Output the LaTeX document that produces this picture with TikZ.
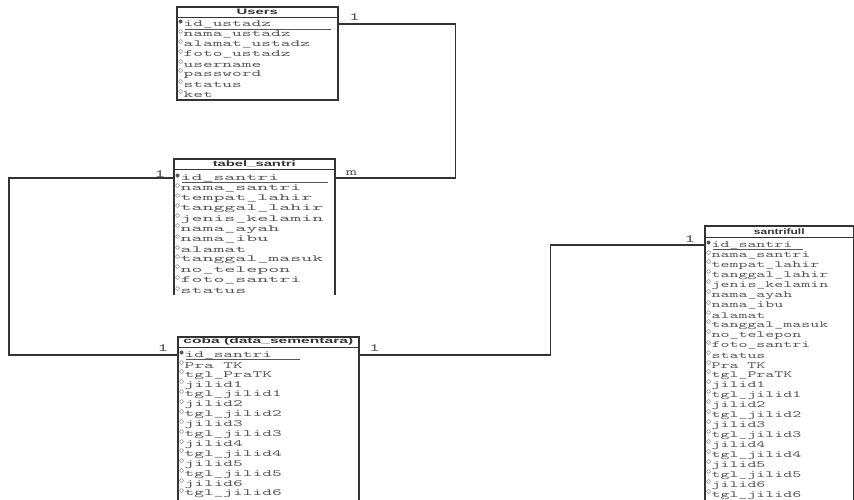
\documentclass[tikz,border=0pt]{standalone}
\usepackage{fontspec}
\usetikzlibrary{positioning}
\newfontfamily\rowfont[FakeStretch=1.95]{lmmono10-regular.otf}
\newfontfamily\rowfontw[FakeStretch=2.2]{lmmono10-regular.otf}
\newfontfamily\rowfontn[FakeStretch=1.8]{lmmono10-regular.otf}
\newfontfamily\headfont[FakeStretch=1.85]{Liberation Sans}
\newfontfamily\headfontw[FakeStretch=1.95]{Liberation Sans}
\newfontfamily\headfontn[FakeStretch=1.5]{Liberation Sans}
\newcommand\pkdot{\raisebox{2.5pt}{\scalebox{1.1}{$\bullet$}}\hspace{0.3pt}}
\newcommand\coldot{\raisebox{2.5pt}{\scalebox{1.1}{$\circ$}}\hspace{0.3pt}}
\definecolor{linegray}{HTML}{333333}
\definecolor{textgray}{HTML}{555555}
\tikzset{
  tbox/.style={draw=linegray,line width=1.6pt,anchor=north west,inner sep=0pt},
  hdr/.style={anchor=north,minimum height=11pt,inner sep=0pt,text=linegray,
    font=\fontsize{8}{9}#1\bfseries},
  hline/.style={draw=linegray,line width=0.9pt},
  row/.style={anchor=west,inner sep=0pt,text=textgray,font=\fontsize{9.5}{10}#1},
  pkline/.style={draw=textgray,line width=0.7pt},
  link/.style={draw=linegray,line width=1.4pt},
  card/.style={inner sep=0pt,text=textgray,font=\fontsize{11}{12}\rowfont}
}
\begin{document}
\begin{tikzpicture}[x=1pt,y=-1pt]
\path[use as bounding box,fill=white] (0,0) rectangle (854,499);

% Users
\node[tbox,minimum width=161pt,minimum height=93pt] (users) at (176,6) {};
\node[hdr=\headfont] (users-h) at (users.north) {Users};
\draw[hline] (users-h.south -| users.west) -- (users-h.south -| users.east);
\node[row=\rowfont] (users-key) at (178,24) {\pkdot id\_ustadz};
\draw[pkline] (users-key.west) ++(7,5) -- ++(146,0);
\foreach \f [count=\i] in {nama\_ustadz,alamat\_ustadz,foto\_ustadz,username,password,status,ket}
  \node[row=\rowfont] (users-\i) at (178,{24+10*\i}) {\coldot\f};

% tabel_santri
\begin{scope}
\clip (0,0) rectangle (854,294);
\node[tbox,minimum width=161pt,minimum height=150pt] (santri) at (173,158) {};
\node[hdr=\headfont] (santri-h) at (santri.north) {tabel\_santri};
\draw[hline] (santri-h.south -| santri.west) -- (santri-h.south -| santri.east);
\node[row=\rowfontw] (santri-key) at (175,178) {\pkdot id\_santri};
\draw[pkline] (santri-key.west) ++(7,4) -- ++(146,0);
\foreach \f [count=\i] in {nama\_santri,tempat\_lahir,tanggal\_lahir,jenis\_kelamin,nama\_ayah,nama\_ibu,alamat,tanggal\_masuk,no\_telepon,foto\_santri,status}
  \node[row=\rowfontw] (santri-\i) at (175,{178+10.2*\i}) {\coldot\f};
\end{scope}

% coba (data_sementara)
\node[tbox,minimum width=181pt,minimum height=200pt] (coba) at (177,336) {};
\node[hdr=\headfontw] (coba-h) at (coba.north) {coba (data\_sementara)};
\draw[hline] (coba-h.south -| coba.west) -- (coba-h.south -| coba.east);
\node[row=\rowfont] (coba-key) at (179,355) {\pkdot id\_santri};
\draw[pkline] (coba-key.west) ++(7,4) -- ++(114,0);
\foreach \f [count=\i] in {Pra TK,tgl\_PraTK,jilid1,tgl\_jilid1,jilid2,tgl\_jilid2,jilid3,tgl\_jilid3,jilid4,tgl\_jilid4,jilid5,tgl\_jilid5,jilid6,tgl\_jilid6}
  \node[row=\rowfont] (coba-\i) at (179,{355+9.9*\i}) {\coldot\f};

% santrifull
\node[tbox,minimum width=149pt,minimum height=300pt] (full) at (704,225) {};
\node[hdr=\headfontn,minimum height=12pt] (full-h) at (full.north) {santrifull};
\draw[hline] (full-h.south -| full.west) -- (full-h.south -| full.east);
\node[row=\rowfontn] (full-key) at (706,245) {\pkdot id\_santri};
\draw[pkline] (full-key.west) ++(7,4) -- ++(90,0);
\foreach \f [count=\i] in {nama\_santri,tempat\_lahir,tanggal\_lahir,jenis\_kelamin,nama\_ayah,nama\_ibu,alamat,tanggal\_masuk,no\_telepon,foto\_santri,status,Pra TK,tgl\_PraTK,jilid1,tgl\_jilid1,jilid2,tgl\_jilid2,jilid3,tgl\_jilid3,jilid4,tgl\_jilid4,jilid5,tgl\_jilid5,jilid6,tgl\_jilid6}
  \node[row=\rowfontn] (full-\i) at (706,{245+10*\i}) {\coldot\f};

% relations
\coordinate (u-out) at (users.east |- users-key);
\coordinate (s-in) at (santri.east |- santri-key);
\coordinate (s-out) at (santri.west |- santri-key);
\coordinate (c-in) at (coba.west |- coba-key);
\coordinate (c-out) at (coba.east |- coba-key);
\coordinate (f-in) at (full.west |- full-key);
\draw[link] (u-out) -- ++(117,0) |- (s-in);
\draw[link] (s-out) -- ++(-164,0) |- (c-in);
\draw[link] (c-out) -- ++(191,0) |- (f-in);
\node[card] (u-card) at ([shift={(16,-7)}]u-out) {1};
\node[card] (s-card-m) at ([shift={(16,-5)}]s-in) {m};
\node[card] (s-card-1) at ([shift={(-13,-4)}]s-out) {1};
\node[card] (c-card-l) at ([shift={(-14,-7)}]c-in) {1};
\node[card] (c-card-r) at ([shift={(15,-7)}]c-out) {1};
\node[card] (f-card) at ([shift={(-14,-6)}]f-in) {1};
\end{tikzpicture}
\end{document}
